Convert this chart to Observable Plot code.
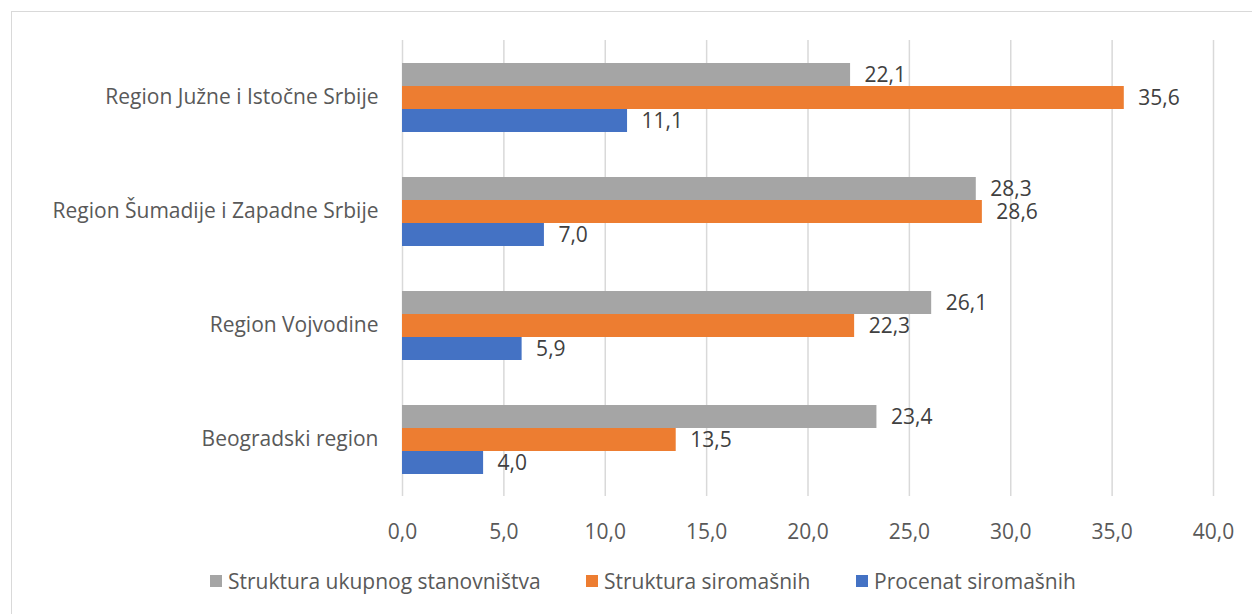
<!DOCTYPE html>
<html>
<head>
<meta charset="utf-8">
<script src="https://cdn.jsdelivr.net/npm/d3@7"></script>
<script src="https://cdn.jsdelivr.net/npm/@observablehq/plot@0.6"></script>
<style>
  html, body { margin: 0; padding: 0; background: #fff; }
  body { width: 1252px; height: 614px; position: relative; overflow: hidden; font-family: "Open Sans", sans-serif; }
  #frame { position: absolute; left: 11px; top: 11px; width: 1250px; height: 640px; border: 1px solid #d9d9d9; box-sizing: border-box; }
  #chart { position: absolute; left: 0; top: 0; }
  #legend { position: absolute; top: 567px; left: 0; width: 1252px; height: 28px; font-size: 21px; color: #595959; }
  .item { position: absolute; top: 0; display: flex; align-items: center; white-space: nowrap; height: 28px; }
  .sw { width: 12px; height: 12px; margin-right: 6px; display: inline-block; }
</style>
</head>
<body>
<div id="frame"></div>
<div id="chart"></div>
<div id="legend"></div>
<script>
const regions = [
  "Region Južne i Istočne Srbije",
  "Region Šumadije i Zapadne Srbije",
  "Region Vojvodine",
  "Beogradski region"
];
const series = ["Struktura ukupnog stanovništva", "Struktura siromašnih", "Procenat siromašnih"];
const colors = ["#A5A5A5", "#ED7D31", "#4472C4"];
const ukupno = [22.1, 28.3, 26.1, 23.4];
const siromasni = [35.6, 28.6, 22.3, 13.5];
const procenat = [11.1, 7.0, 5.9, 4.0];
const xTicks = [0, 5, 10, 15, 20, 25, 30, 35, 40];

const values = [ukupno, siromasni, procenat];
const data = [];
regions.forEach((r, i) => series.forEach((s, j) => data.push({region: r, series: s, value: values[j][i]})));
const fmt = v => v.toFixed(1).replace(".", ",");

const chart = Plot.plot({
  width: 1252,
  height: 555,
  marginLeft: 402,
  marginRight: 39,
  marginTop: 40,
  marginBottom: 59,
  style: {fontFamily: "'Open Sans', sans-serif", fontSize: "21px", color: "#595959", background: "transparent"},
  x: {domain: [0, 40], ticks: xTicks, tickFormat: fmt, tickSize: 0, tickPadding: 28, label: null},
  y: {domain: series, axis: null, paddingInner: 0, paddingOuter: 0.978},
  fy: {domain: regions, axis: "left", padding: 0, tickSize: 0, tickPadding: 24, label: null},
  color: {domain: series, range: colors},
  facet: {data, y: "region"},
  marks: [
    Plot.ruleX(xTicks, {stroke: "#d9d9d9", strokeWidth: 1.5}),
    Plot.barX(data, {y: "series", x: "value", fill: "series"}),
    Plot.text(data, {y: "series", x: "value", text: d => fmt(d.value), textAnchor: "start", dx: 14, fill: "#404040", fontSize: 21})
  ]
});
document.getElementById("chart").appendChild(chart);

const legend = document.getElementById("legend");
const lefts = [210, 586, 856];
series.forEach((s, j) => {
  const it = document.createElement("div");
  it.className = "item";
  it.style.left = lefts[j] + "px";
  it.innerHTML = `<span class="sw" style="background:${colors[j]}"></span><span>${s}</span>`;
  legend.appendChild(it);
});
</script>
</body>
</html>
